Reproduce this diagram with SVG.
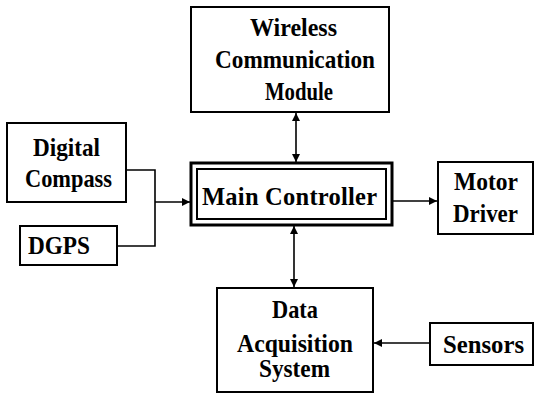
<svg xmlns="http://www.w3.org/2000/svg" width="539" height="395" viewBox="0 0 539 395">
<style>
.box{fill:#fff;stroke:#000;stroke-width:2}
.t{font-family:"Liberation Serif","Times New Roman",serif;font-weight:bold;font-size:24.5px;fill:#000;text-anchor:middle}
.c{fill:none;stroke:#000;stroke-width:1.6}
</style>
<defs>
<marker id="ah" viewBox="0 0 10 10" refX="10" refY="5" markerWidth="8" markerHeight="8" markerUnits="userSpaceOnUse" orient="auto-start-reverse">
<path d="M0,0 L10,5 L0,10 z" fill="#000"/>
</marker>
</defs>
<rect width="539" height="395" fill="#fff"/>
<g id="connectors">
<line class="c" x1="296" y1="113" x2="296" y2="162" marker-start="url(#ah)" marker-end="url(#ah)"/>
<line class="c" x1="294" y1="226" x2="294" y2="287" marker-start="url(#ah)" marker-end="url(#ah)"/>
<polyline class="c" points="126,170 155,170 155,246 117,246"/>
<line class="c" x1="155" y1="202" x2="190" y2="202" marker-end="url(#ah)"/>
<line class="c" x1="393" y1="201" x2="437" y2="201" marker-end="url(#ah)"/>
<line class="c" x1="430" y1="343" x2="374" y2="343" marker-end="url(#ah)"/>
</g>
<g id="wireless">
<rect class="box" x="191" y="7" width="198" height="105"/>
<text class="t" x="293.5" y="36" textLength="87" lengthAdjust="spacingAndGlyphs">Wireless</text>
<text class="t" x="295" y="68" textLength="160" lengthAdjust="spacingAndGlyphs">Communication</text>
<text class="t" x="299" y="100" textLength="68" lengthAdjust="spacingAndGlyphs">Module</text>
</g>
<g id="compass">
<rect class="box" x="7" y="123" width="119" height="79"/>
<text class="t" x="66.5" y="156" textLength="67" lengthAdjust="spacingAndGlyphs">Digital</text>
<text class="t" x="68.5" y="187" textLength="87" lengthAdjust="spacingAndGlyphs">Compass</text>
</g>
<g id="dgps">
<rect class="box" x="20" y="226" width="97" height="39"/>
<text class="t" x="59" y="254" textLength="62" lengthAdjust="spacingAndGlyphs">DGPS</text>
</g>
<g id="main">
<rect x="191" y="163" width="201" height="62" fill="#fff" stroke="#000" stroke-width="3"/>
<rect x="197" y="169" width="189" height="50" fill="none" stroke="#000" stroke-width="2"/>
<text class="t" x="289.5" y="205" textLength="175" lengthAdjust="spacing">Main Controller</text>
</g>
<g id="motor">
<rect class="box" x="438" y="162" width="95" height="72"/>
<text class="t" x="486" y="190" textLength="64" lengthAdjust="spacingAndGlyphs">Motor</text>
<text class="t" x="485.5" y="222" textLength="65" lengthAdjust="spacingAndGlyphs">Driver</text>
</g>
<g id="das">
<rect class="box" x="217" y="288" width="156" height="104"/>
<text class="t" x="295" y="318" textLength="46" lengthAdjust="spacingAndGlyphs">Data</text>
<text class="t" x="295" y="352" textLength="116" lengthAdjust="spacingAndGlyphs">Acquisition</text>
<text class="t" x="294.5" y="377" textLength="71" lengthAdjust="spacingAndGlyphs">System</text>
</g>
<g id="sensors">
<rect class="box" x="430" y="323" width="103" height="42"/>
<text class="t" x="483.5" y="352.5" textLength="81" lengthAdjust="spacingAndGlyphs">Sensors</text>
</g>
</svg>
